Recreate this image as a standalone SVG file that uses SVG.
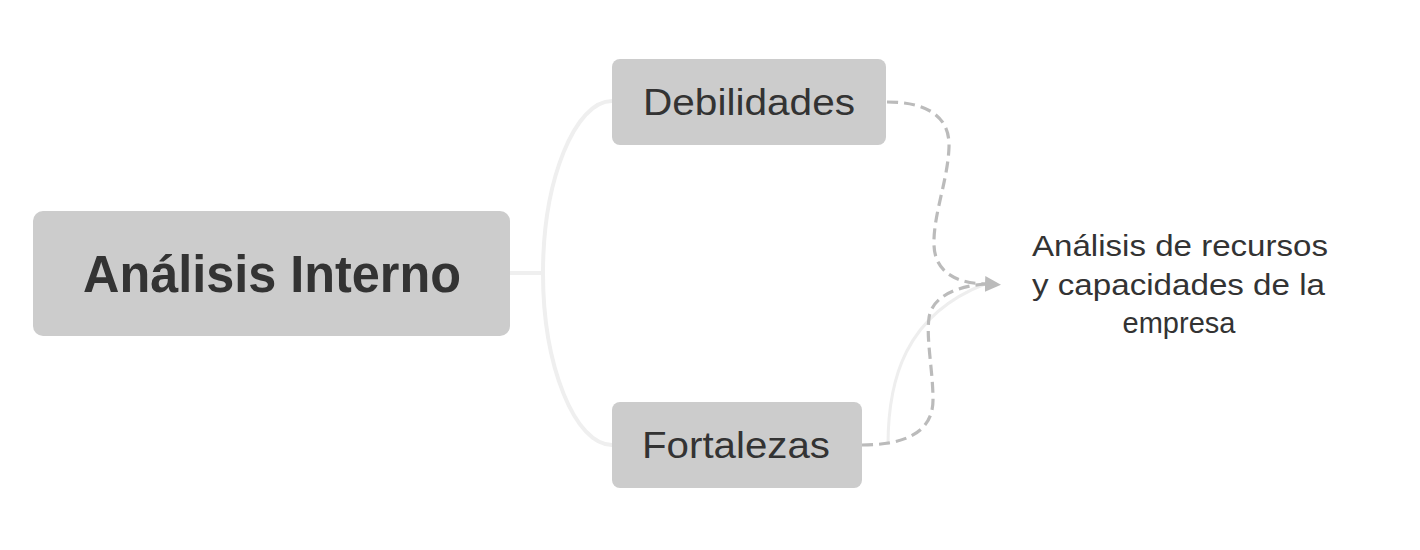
<svg xmlns="http://www.w3.org/2000/svg" width="1420" height="550" viewBox="0 0 1420 550">
  <style>
    .box { fill: #cccccc; }
    .txt { font-family: "Liberation Sans", Arial, sans-serif; fill: #333333; }
    .branch { fill: none; stroke: #efefef; stroke-width: 4; stroke-linecap: round; }
    .faint { fill: none; stroke: #eeeeee; stroke-width: 3; }
    .rel { fill: none; stroke: #bbbbbb; stroke-width: 3.2; stroke-dasharray: 11 6; }
  </style>
  <defs>
    <marker id="arrow" viewBox="0 0 16 16" refX="0" refY="8" markerWidth="16" markerHeight="16" markerUnits="userSpaceOnUse" orient="auto">
      <path d="M0,0 L16,8 L0,16 z" fill="#bbbbbb"/>
    </marker>
  </defs>
  <rect width="1420" height="550" fill="#ffffff"/>
  <g id="connectors">
    <path class="branch" d="M510,273 L543,273 C543,180 575,101 612,101"/>
    <path class="branch" d="M543,273 C543,366 575,445 612,445"/>
    <path class="faint" d="M888,445 C888,380 905,315 985,284"/>
    <path class="rel" d="M887,102 C925,102 950,115 949,147 C948,180 933,215 934,245 C935,275 960,283 985,284" marker-end="url(#arrow)"/>
    <path class="rel" d="M862,445 C900,445 933,435 933,400 C933,370 926,340 929,318 C932,295 960,286 985,284"/>
  </g>
  <g id="node-analisis-interno">
    <rect class="box" x="33" y="211" width="477" height="125" rx="10"/>
    <text class="txt" x="83" y="292" font-size="51" font-weight="bold" textLength="378" lengthAdjust="spacingAndGlyphs">Análisis Interno</text>
  </g>
  <g id="node-debilidades">
    <rect class="box" x="612" y="59" width="274" height="86" rx="8"/>
    <text class="txt" x="643" y="115" font-size="36" textLength="212" lengthAdjust="spacingAndGlyphs">Debilidades</text>
  </g>
  <g id="node-fortalezas">
    <rect class="box" x="612" y="402" width="250" height="86" rx="8"/>
    <text class="txt" x="642" y="458" font-size="36" textLength="188" lengthAdjust="spacingAndGlyphs">Fortalezas</text>
  </g>
  <g id="node-recursos">
    <text class="txt" x="1032" y="256" font-size="29" textLength="296" lengthAdjust="spacingAndGlyphs">Análisis de recursos</text>
    <text class="txt" x="1032" y="295" font-size="29" textLength="293" lengthAdjust="spacingAndGlyphs">y capacidades de la</text>
    <text class="txt" x="1179" y="333" font-size="29" text-anchor="middle">empresa</text>
  </g>
</svg>
